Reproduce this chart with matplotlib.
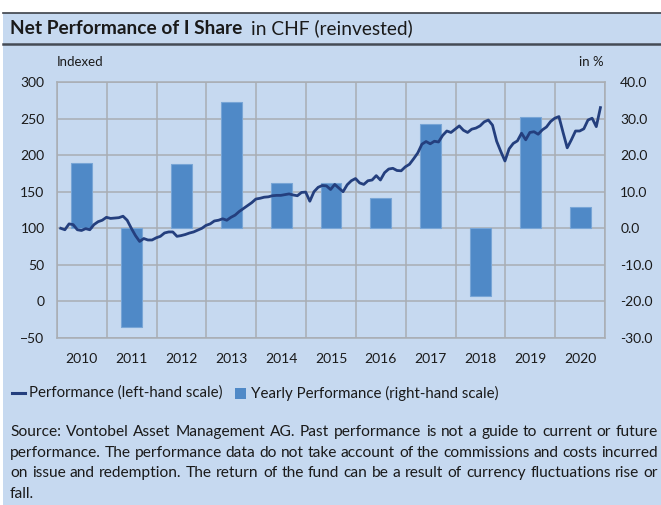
import matplotlib
matplotlib.use("Agg")
import matplotlib.pyplot as plt
from matplotlib.lines import Line2D
from matplotlib.patches import Rectangle
import numpy as np

plt.rcParams['font.family'] = ['Lato', 'DejaVu Sans']

# ---------------- data ----------------
years = ["2010", "2011", "2012", "2013", "2014", "2015", "2016", "2017", "2018", "2019", "2020"]
yearly_perf = [17.8, -27.0, 17.5, 34.4, 12.5, 12.5, 8.3, 28.6, -18.5, 30.5, 5.7]

perf_2010 = [100, 98, 106, 105, 98, 97, 99.5, 98, 105, 109, 111, 115]
perf_2011 = [113.5, 114, 114.5, 116.5, 111, 100, 90, 82, 86, 84, 84, 87]
perf_2012 = [89, 93.6, 95, 95, 89, 90, 91.5, 93.5, 95, 97.5, 100, 104]
perf_2013 = [106, 110, 111, 113, 111, 115, 118, 123, 127, 131, 135, 140]
perf_2014 = [141, 142.5, 143, 144.5, 145, 145, 146, 147, 145.5, 144.5, 149, 149.5]
perf_2015 = [137, 150, 156, 158.5, 158, 153, 160, 155, 150, 159.5, 165, 168]
perf_2016 = [162, 160, 165, 166, 172, 166, 176, 181, 182, 179, 178.6, 184]
perf_2017 = [187.5, 195, 203, 215, 218.6, 215.5, 219, 218, 227, 233, 231, 235.5]
perf_2018 = [240, 234, 231, 235.5, 237, 240, 245.5, 248, 241, 219, 205, 192]
perf_2019 = [208.6, 216, 219.5, 230, 221, 231, 232, 228.6, 234.5, 238.5, 246, 250.5]
perf_2020 = [252.7, 231, 210, 221, 233, 233, 236, 248, 250.5, 239, 265]

left_ticks = [-50, 0, 50, 100, 150, 200, 250, 300]
right_ticks = [-30, -20, -10, 0, 10, 20, 30, 40]

title_bold = "Net Performance of I Share"
title_rest = "in CHF (reinvested)"
left_unit = "Indexed"
right_unit = "in %"
legend_line = "Performance (left-hand scale)"
legend_bar = "Yearly Performance (right-hand scale)"
footnote_lines = [
    "Source: Vontobel Asset Management AG. Past performance is not a guide to current or future",
    "performance. The performance data do not take account of the commissions and costs incurred",
    "on issue and redemption. The return of the fund can be a result of currency fluctuations rise or",
    "fall.",
]

# ---------------- style ----------------
BG = "#c6d9f0"
BAR = "#4f89c7"
BAR_EDGE = "#78a5d6"
LINE = "#243f7e"
GRID = "#a9adb3"
TEXT = "#1a1a1a"

W, H = 661, 505
fig = plt.figure(figsize=(W / 100, H / 100), dpi=100, facecolor="white")
renderer = fig.canvas.get_renderer()

def fx(px):
    return px / W

def fy(py):
    return 1 - py / H

def text_width(s, size, weight="normal"):
    t = fig.text(0, 0, s, fontsize=size, fontweight=weight)
    w = t.get_window_extent(renderer).width
    t.remove()
    return w

def fit_size(s, target_px, weight="normal"):
    return 10 * target_px / text_width(s, 10, weight)

# background panel
fig.add_artist(Rectangle((fx(3), 0), 1 - fx(3), fy(12.5), transform=fig.transFigure,
                         facecolor=BG, edgecolor="none", zorder=0))
fig.add_artist(Line2D([fx(3), 1], [fy(12.8), fy(12.8)], transform=fig.transFigure,
                      color="#3c4149", lw=1.2))
fig.add_artist(Line2D([fx(3), 1], [fy(44), fy(44)], transform=fig.transFigure,
                      color="#454b55", lw=1.8))

# title
tsize = fit_size(title_bold, 233, "bold")
fig.text(fx(10), fy(28.5), title_bold, fontsize=tsize, fontweight="bold", color=TEXT,
         va="center", ha="left")
fig.text(fx(251), fy(28.5), title_rest, fontsize=tsize, color=TEXT, va="center", ha="left")

fig.text(fx(57), fy(62), left_unit, fontsize=9.5, color=TEXT, va="center", ha="left")
fig.text(fx(604), fy(62), right_unit, fontsize=9.5, color=TEXT, va="center", ha="right")

# ---------------- axes ----------------
ax = fig.add_axes([fx(57), fy(338), fx(605) - fx(57), (338 - 82) / H])
ax.set_facecolor("none")
ax2 = ax.twinx()

n = len(years)
xb = np.arange(n) + 0.5
ax.bar(xb, yearly_perf, width=0.42, color=BAR, edgecolor=BAR_EDGE, linewidth=0.8, zorder=2)
ax.set_xlim(0, n)
ax.set_ylim(right_ticks[0], right_ticks[-1])
ax.set_yticks(right_ticks)
ax.set_yticklabels([f"{v:.1f}" for v in right_ticks])
ax.yaxis.tick_right()
ax.set_xticks(xb)
ax.set_xticklabels(years)
ax.set_xticks(np.arange(n + 1), minor=True)
ax.set_axisbelow(True)
ax.grid(axis="y", which="major", color=GRID, lw=1.1)
ax.grid(axis="x", which="minor", color=GRID, lw=1.1)
ax.grid(axis="x", which="major", visible=False)
ax.tick_params(axis="both", which="both", length=0)
ax.tick_params(axis="x", pad=11, labelsize=10, labelcolor=TEXT)
ax.tick_params(axis="y", pad=11, labelsize=10, labelcolor=TEXT)
for s in ax.spines.values():
    s.set_color(GRID)
    s.set_linewidth(1.1)

perf = (perf_2010 + perf_2011 + perf_2012 + perf_2013 + perf_2014 + perf_2015 +
        perf_2016 + perf_2017 + perf_2018 + perf_2019 + perf_2020)
xm = np.arange(len(perf)) / 12 + 0.9 / 12
ax2.plot(xm, perf, color=LINE, lw=2.0, solid_joinstyle="round", zorder=3)
ax2.set_ylim(left_ticks[0], left_ticks[-1])
ax2.set_yticks(left_ticks)
ax2.yaxis.tick_left()
ax2.tick_params(axis="y", length=0, pad=9, labelsize=10, labelcolor=TEXT)
for s in ax2.spines.values():
    s.set_visible(False)

# ---------------- legend ----------------
lsize = 10.8
fig.add_artist(Line2D([fx(12), fx(25)], [fy(393), fy(393)], transform=fig.transFigure,
                      color=LINE, lw=2.2))
fig.text(fx(29), fy(393), legend_line, fontsize=lsize, color=TEXT, va="center", ha="left")
fig.add_artist(Rectangle((fx(235), fy(398.5)), fx(11), 11 / H, transform=fig.transFigure,
                         facecolor=BAR, edgecolor="none"))
fig.text(fx(251), fy(393), legend_bar, fontsize=lsize, color=TEXT, va="center", ha="left")

# ---------------- footnote (justified) ----------------
x_left, x_right = 10, 658
fn_size = fit_size(footnote_lines[2], (x_right - x_left) - 2)
line_y = [432, 453, 473, 494]
for i, line in enumerate(footnote_lines):
    y = fy(line_y[i])
    if i == len(footnote_lines) - 1:
        fig.text(fx(x_left), y, line, fontsize=fn_size, color=TEXT, va="center", ha="left")
        continue
    words = line.split(" ")
    widths = [text_width(w_, fn_size) for w_ in words]
    gap = ((x_right - x_left) - sum(widths)) / (len(words) - 1)
    x = x_left
    for w_, wd in zip(words, widths):
        fig.text(fx(x), y, w_, fontsize=fn_size, color=TEXT, va="center", ha="left")
        x += wd + gap

fig.savefig("out.png", dpi=100, facecolor="white")
